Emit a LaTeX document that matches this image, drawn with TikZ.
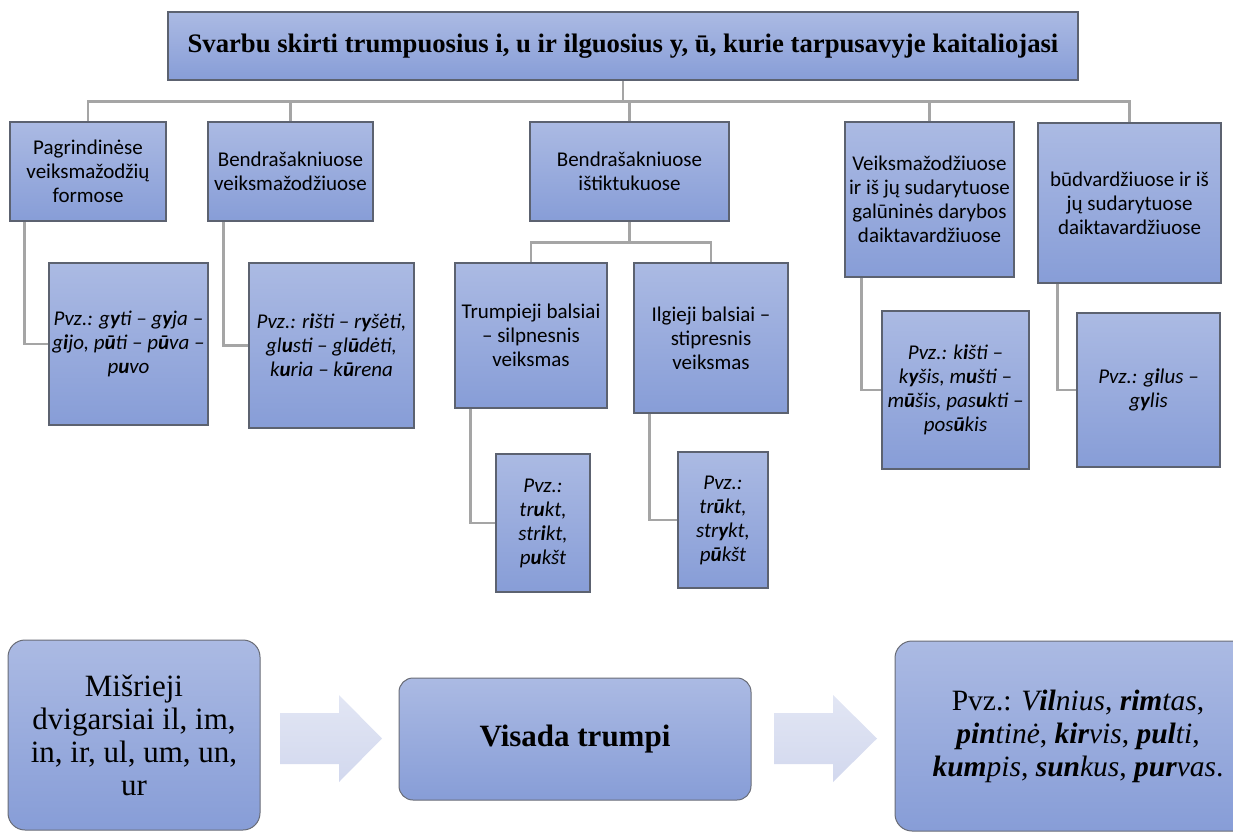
\documentclass[tikz,border=0pt]{standalone}
\usepackage{fontspec}
\setmainfont{Liberation Serif}
\newfontfamily\calib{Carlito}
\usetikzlibrary{backgrounds}
\definecolor{boxtop}{RGB}{171,186,227}
\definecolor{boxbot}{RGB}{135,157,215}
\definecolor{boxline}{RGB}{92,98,112}
\definecolor{rline}{RGB}{105,108,118}
\definecolor{connc}{RGB}{165,165,165}
\definecolor{arrtop}{RGB}{226,230,244}
\definecolor{arrbot}{RGB}{210,216,238}
\newcommand\bx[1]{\textbf{#1}}
\tikzset{
  box/.style={draw=boxline, line width=1.1pt, top color=boxtop, bottom color=boxbot,
    align=center, inner sep=0pt, font=\calib\fontsize{21}{24}\selectfont},
  ex/.style={box, font=\calib\itshape\fontsize{21}{24}\selectfont},
  rbox/.style={draw=rline, line width=1pt, rounded corners=17pt, top color=boxtop,
    bottom color=boxbot, align=center, inner sep=0pt, font=\fontsize{31}{33}\selectfont},
  conn/.style={draw=connc, line width=2.6pt},
  blockarrow/.style={top color=arrtop, bottom color=arrbot, draw=none}
}
\begin{document}
\begin{tikzpicture}[x=1pt,y=-1pt]
\useasboundingbox (0,0) rectangle (1233,832);
% top title
\node[box, minimum width=910, minimum height=68, font=\bfseries\fontsize{26.7}{30}\selectfont] (title) at (623,46)
  {Svarbu skirti trumpuosius i, u ir ilguosius y, ū, kurie tarpusavyje kaitaliojasi};
% level 1
\node[box, minimum width=156, minimum height=99] (n1) at (88,171.5) {Pagrindinėse\\veiksmažodžių\\formose};
\node[box, minimum width=165, minimum height=99] (n2) at (290.5,171.5) {Bendrašakniuose\\veiksmažodžiuose};
\node[box, minimum width=199, minimum height=99] (n3) at (629.5,171.5) {Bendrašakniuose\\ištiktukuose};
\node[box, minimum width=169, minimum height=155] (n4) at (929.5,199.5) {Veiksmažodžiuose\\ir iš jų sudarytuose\\galūninės darybos\\daiktavardžiuose};
\node[box, minimum width=183, minimum height=160] (n5) at (1129.5,203) {būdvardžiuose ir iš\\jų sudarytuose\\daiktavardžiuose};
% level 2
\node[ex, minimum width=159, minimum height=162] (l1) at (128.5,344) {Pvz.: g\bx{y}ti – g\bx{y}ja –\\g\bx{i}jo, p\bx{ū}ti – p\bx{ū}va –\\p\bx{u}vo};
\node[ex, minimum width=165, minimum height=165] (l2) at (331.5,345.5) {Pvz.: r\bx{i}šti – r\bx{y}šėti,\\gl\bx{u}sti – gl\bx{ū}dėti,\\k\bx{u}ria – k\bx{ū}rena};
\node[box, minimum width=152, minimum height=145] (t1) at (531,335.5) {Trumpieji balsiai\\– silpnesnis\\veiksmas};
\node[box, minimum width=154, minimum height=150] (t2) at (711,338) {Ilgieji balsiai –\\stipresnis\\veiksmas};
\node[ex, minimum width=94, minimum height=138] (l3a) at (543,523) {Pvz.:\\tr\bx{u}kt,\\str\bx{i}kt,\\p\bx{u}kšt};
\node[ex, minimum width=90, minimum height=136] (l3b) at (723,520) {Pvz.:\\tr\bx{ū}kt,\\str\bx{y}kt,\\p\bx{ū}kšt};
\node[ex, minimum width=147, minimum height=158] (l4) at (955.5,390) {Pvz.: k\bx{i}šti –\\k\bx{y}šis, m\bx{u}šti –\\m\bx{ū}šis, pas\bx{u}kti –\\pos\bx{ū}kis};
\node[ex, minimum width=143, minimum height=154] (l5) at (1148.5,390) {Pvz.: g\bx{i}lus –\\g\bx{y}lis};
% bottom row
\node[rbox, minimum width=252, minimum height=190] (ba) at (134,735) {Mišrieji\\dvigarsiai il, im,\\in, ir, ul, um, un,\\ur};
\node[rbox, rounded corners=14pt, minimum width=352, minimum height=122, font=\bfseries\fontsize{31}{33}\selectfont] (bb) at (575,739) {Visada trumpi};
\node[rbox, minimum width=366, minimum height=190, font=\fontsize{29.5}{33}\selectfont] (bc) at (1078,736)
  {Pvz.: \textit{V\bx{il}nius}, \textit{\bx{rim}tas},\\\textit{\bx{pin}tinė}, \textit{\bx{kir}vis}, \textit{\bx{pul}ti},\\\textit{\bx{kum}pis}, \textit{\bx{sun}kus}, \textit{\bx{pur}vas}.};
% block arrows
\shade[blockarrow] (280,713) -- (339,713) -- (339,695) -- (382,738.5) -- (339,782) -- (339,764) -- (280,764) -- cycle;
\shade[blockarrow] (774,713) -- (833,713) -- (833,695) -- (877,738.5) -- (833,782) -- (833,764) -- (774,764) -- cycle;
% connectors
\begin{scope}[on background layer]
  \foreach \c in {n1,n2,n3,n4,n5}
    \draw[conn] (title.south) -- ++(0,21) -| (\c.north);
  \draw[conn] (n3.south) -- ++(0,21) -| (t1.north);
  \draw[conn] (n3.south) -- ++(0,21) -| (t2.north);
  \draw[conn] ([xshift=15pt]n1.south west) |- (l1.west);
  \draw[conn] ([xshift=16pt]n2.south west) |- (l2.west);
  \draw[conn] ([xshift=16pt]t1.south west) |- (l3a.west);
  \draw[conn] ([xshift=16pt]t2.south west) |- (l3b.west);
  \draw[conn] ([xshift=17pt]n4.south west) |- (l4.west);
  \draw[conn] ([xshift=20pt]n5.south west) |- (l5.west);
\end{scope}
\end{tikzpicture}
\end{document}
